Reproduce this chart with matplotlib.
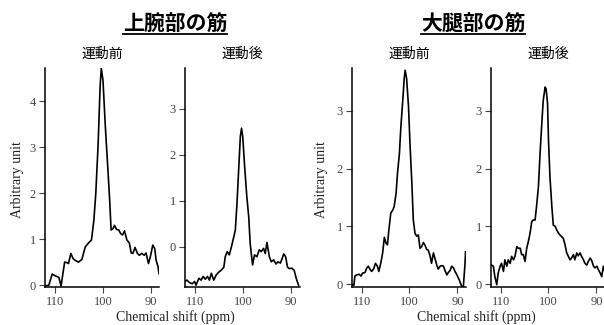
import matplotlib
matplotlib.use("Agg")
import matplotlib.pyplot as plt
from matplotlib.lines import Line2D

# data (ppm, arbitrary unit)
arm_pre_ppm = [112.2, 111.3, 110.6, 109.9, 109.2, 108.75, 108.0, 107.5, 107.2, 106.7,
               106.25, 105.8, 105.1, 104.4, 103.7, 103.0, 102.4, 101.9, 101.5, 101.0,
               100.6, 100.35, 100.0, 99.5, 99.0, 98.6, 98.3, 97.9, 97.6, 97.15,
               96.7, 96.3, 95.9, 95.5, 95.0, 94.5, 94.1, 93.75, 93.3, 92.8,
               92.4, 91.9, 91.4, 91.0, 90.5, 90.1, 89.6, 89.2, 88.9, 88.5, 88.3]
arm_pre_val = [-0.02, 0.0, 0.24, 0.2, 0.17, -0.02, 0.5, 0.49, 0.47, 0.69,
               0.58, 0.54, 0.5, 0.56, 0.83, 0.92, 0.98, 1.41, 1.99, 3.08,
               4.31, 4.71, 4.46, 3.44, 2.57, 1.85, 1.2, 1.23, 1.3, 1.21,
               1.2, 1.12, 1.09, 1.18, 0.98, 0.92, 0.7, 0.69, 0.82, 0.69,
               0.65, 0.69, 0.65, 0.7, 0.47, 0.62, 0.87, 0.8, 0.54, 0.4, 0.25]

arm_post_ppm = [112.15, 111.7, 111.2, 110.6, 110.1, 109.8, 109.2, 108.75, 108.3, 107.85,
                107.4, 107.0, 106.6, 106.1, 105.6, 105.1, 104.5, 104.0, 103.7, 103.3,
                102.85, 102.4, 101.9, 101.6, 101.25, 100.9, 100.55, 100.3, 100.05, 99.65,
                99.2, 98.8, 98.5, 98.0, 97.6, 97.1, 96.6, 96.2, 95.7, 95.35,
                95.0, 94.5, 94.1, 93.6, 93.1, 92.7, 92.2, 91.9, 91.5, 91.1,
                90.7, 90.3, 89.8, 89.3, 88.9, 88.4]
arm_post_val = [-0.76, -0.73, -0.78, -0.81, -0.76, -0.84, -0.69, -0.73, -0.65, -0.71,
                -0.65, -0.73, -0.58, -0.73, -0.62, -0.56, -0.51, -0.45, -0.22, -0.11,
                -0.18, 0.0, 0.22, 0.36, 0.94, 1.67, 2.4, 2.58, 2.4, 1.74,
                1.09, 0.65, 0.07, -0.4, -0.18, -0.22, -0.07, -0.11, -0.04, -0.15,
                0.09, -0.22, -0.33, -0.29, -0.38, -0.33, -0.36, -0.28, -0.16, -0.22,
                -0.45, -0.48, -0.47, -0.52, -0.69, -0.84]

leg_pre_ppm = [112.0, 111.6, 111.4, 111.0, 110.5, 110.1, 109.8, 109.3, 108.9, 108.6,
               108.2, 107.9, 107.5, 107.1, 106.7, 106.4, 106.0, 105.6, 105.25, 104.9,
               104.6, 104.3, 103.9, 103.5, 103.2, 102.8, 102.5, 102.1, 101.8, 101.4,
               101.1, 100.9, 100.6, 100.2, 99.9, 99.5, 99.2, 98.85, 98.5, 98.15,
               97.8, 97.45, 97.1, 96.8, 96.4, 96.1, 95.7, 95.4, 95.0, 94.7,
               94.3, 94.0, 93.6, 93.3, 92.9, 92.6, 92.2, 91.9, 91.5, 91.2,
               90.8, 90.5, 90.1, 89.6, 89.1, 88.75, 88.4, 88.3]
leg_pre_val = [-0.01, -0.02, 0.14, 0.16, 0.17, 0.14, 0.19, 0.2, 0.28, 0.31,
               0.25, 0.22, 0.26, 0.36, 0.31, 0.22, 0.36, 0.54, 0.81, 0.71,
               0.68, 0.94, 1.23, 1.28, 1.34, 1.57, 1.92, 2.26, 2.72, 3.18,
               3.56, 3.70, 3.56, 3.07, 2.44, 1.74, 1.11, 0.88, 0.83, 0.85,
               0.62, 0.65, 0.72, 0.68, 0.6, 0.59, 0.49, 0.36, 0.54, 0.45,
               0.33, 0.26, 0.31, 0.32, 0.31, 0.24, 0.16, 0.2, 0.24, 0.31,
               0.28, 0.22, 0.16, 0.07, -0.04, -0.04, 0.36, 0.56]

leg_post_ppm = [111.9, 111.5, 111.2, 110.8, 110.5, 110.1, 109.8, 109.4, 109.1, 108.7,
                108.4, 108.0, 107.7, 107.3, 107.0, 106.6, 106.3, 105.9, 105.6, 105.25,
                104.9, 104.55, 104.2, 103.85, 103.5, 103.2, 102.8, 102.5, 102.1, 101.8,
                101.4, 101.1, 100.7, 100.5, 100.2, 100.0, 99.7, 99.3, 99.0, 98.6,
                98.3, 97.9, 97.6, 97.25, 96.9, 96.55, 96.2, 95.85, 95.5, 95.2,
                94.8, 94.5, 94.1, 93.8, 93.4, 93.1, 92.7, 92.4, 92.0, 91.7,
                91.3, 91.0, 90.6, 90.3, 89.9, 89.6, 89.2, 88.9, 88.55, 88.2]
leg_post_val = [0.33, 0.31, 0.13, -0.01, 0.19, 0.31, 0.36, 0.22, 0.42, 0.31,
                0.42, 0.36, 0.48, 0.42, 0.48, 0.65, 0.62, 0.62, 0.51, 0.51,
                0.39, 0.62, 0.74, 0.88, 1.08, 1.11, 1.11, 1.34, 1.69, 2.2,
                2.78, 3.18, 3.41, 3.38, 3.13, 2.49, 1.86, 1.34, 1.02, 1.0,
                0.94, 0.88, 0.85, 0.82, 0.79, 0.68, 0.54, 0.48, 0.42, 0.45,
                0.51, 0.42, 0.54, 0.49, 0.54, 0.48, 0.42, 0.36, 0.33, 0.39,
                0.45, 0.41, 0.31, 0.28, 0.31, 0.25, 0.19, 0.13, 0.31, 0.2]

group_titles = ["上腕部の筋", "大腿部の筋"]
panel_titles = ["運動前", "運動後", "運動前", "運動後"]

W, H = 604, 325
fig = plt.figure(figsize=(W / 100, H / 100), dpi=100)
jp = ["Noto Sans CJK JP", "DejaVu Sans"]
serif = "Liberation Serif"


def px_axes(x0, x1, y0, y1):
    return fig.add_axes([x0 / W, 1 - y1 / H, (x1 - x0) / W, (y1 - y0) / H])


panels = [
    (px_axes(45, 159, 68, 287), arm_pre_ppm, arm_pre_val, (-0.04, 4.72), [0, 1, 2, 3, 4], (112.1, 88.3)),
    (px_axes(185, 300, 68, 287), arm_post_ppm, arm_post_val, (-0.88, 3.89), [0, 1, 2, 3], (112.1, 88.1)),
    (px_axes(352, 466, 68, 287), leg_pre_ppm, leg_pre_val, (-0.05, 3.74), [0, 1, 2, 3], (112.0, 88.2)),
    (px_axes(491, 606, 68, 287), leg_post_ppm, leg_post_val, (-0.05, 3.74), [0, 1, 2, 3], (112.0, 88.0)),
]

for i, (ax, xs, ys, ylim, yt, xlim) in enumerate(panels):
    ax.plot(xs, ys, color="black", lw=1.2)
    ax.set_xlim(*xlim)
    ax.set_ylim(*ylim)
    ax.set_yticks(yt)
    ax.set_xticks([110, 100, 90])
    for s in ["top", "right"]:
        ax.spines[s].set_visible(False)
    for s in ["left", "bottom"]:
        ax.spines[s].set_linewidth(1.1)
    ax.tick_params(length=4, width=0.8, pad=2.5, colors="#444444", labelsize=9)
    for lab in ax.get_xticklabels() + ax.get_yticklabels():
        lab.set_fontfamily(serif)
    ax.patch.set_alpha(0)
    ax.set_title(panel_titles[i], family=jp, fontsize=10, pad=7)

# group titles with underline
group_x = [175, 473]
titles = []
for gx, gt in zip(group_x, group_titles):
    t = fig.text(gx / W, 1 - 24 / H, gt, family=jp, fontweight="bold", fontsize=15,
                 ha="center", va="center")
    titles.append(t)

fig.canvas.draw()
for t in titles:
    bb = t.get_window_extent().transformed(fig.transFigure.inverted())
    yline = 1 - 34 / H
    fig.add_artist(Line2D([bb.x0, bb.x1], [yline, yline], transform=fig.transFigure,
                          color="black", lw=1.3))

for lx in [18, 322]:
    fig.text(lx / W, 1 - 180 / H, "Arbitrary unit", family=serif, fontsize=10,
             rotation=90, ha="center", va="center", color="#222222")
for cx in [175, 476]:
    fig.text(cx / W, 1 - 317 / H, "Chemical shift (ppm)", family=serif, fontsize=10,
             ha="center", va="center", color="#222222")

fig.savefig("out.png", dpi=100)
